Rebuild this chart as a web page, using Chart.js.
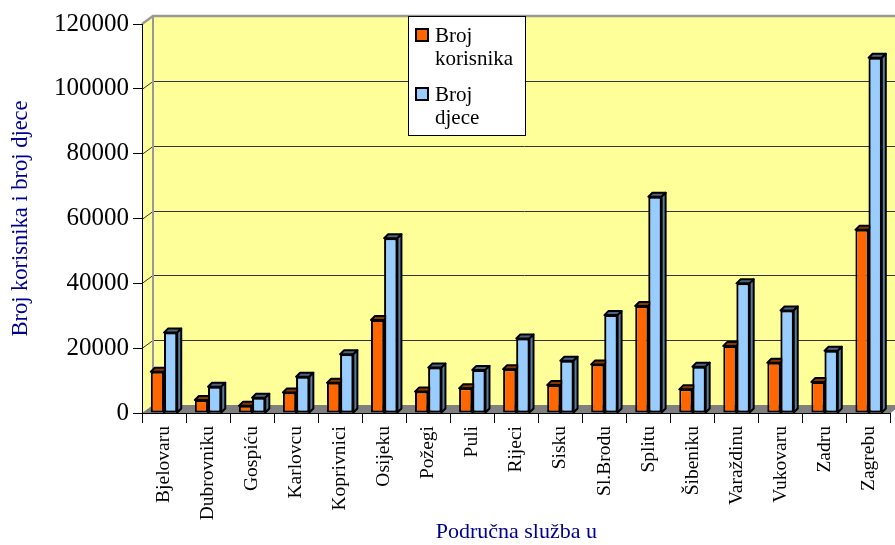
<!DOCTYPE html>
<html>
<head>
<meta charset="utf-8">
<script src="https://cdn.jsdelivr.net/npm/chart.js@4/dist/chart.umd.min.js"></script>
<style>
  body { margin: 0; background: #fff; }
</style>
</head>
<body>
<canvas id="grafico" width="895" height="545"></canvas>
<script>
// Podaci s grafikona
const sluzbe = ['Bjelovaru', 'Dubrovniku', 'Gospiću', 'Karlovcu', 'Koprivnici', 'Osijeku', 'Požegi', 'Puli',
  'Rijeci', 'Sisku', 'Sl.Brodu', 'Splitu', 'Šibeniku', 'Varaždinu', 'Vukovaru', 'Zadru', 'Zagrebu'];
const brojKorisnika = [12700, 4000, 2200, 6300, 9300, 28700, 6600, 7600, 13500, 8600, 15000, 33000, 7300, 20700, 15500, 9600, 56500];
const brojDjece = [24800, 8100, 4700, 11200, 18100, 53900, 14000, 13300, 23000, 16100, 30200, 66700, 14300, 40000, 31600, 19200, 109600];
const oznakeY = [0, 20000, 40000, 60000, 80000, 100000, 120000];
const legenda = [['Broj', 'korisnika'], ['Broj', 'djece']];

const serif = "'Liberation Serif', 'Times New Roman', serif";
const tamnoPlava = '#000090';

// pomak straznjeg zida (3D)
const dubX = 11, dubY = -8;
// pomak gornje i bocne plohe stupca
const stupX = 4, stupY = -4;

function plohe(ctx, el, ds) {
  const p = el.getProps(['x', 'y', 'base', 'width'], true);
  const x1 = p.x - p.width / 2, x2 = p.x + p.width / 2;
  // gornja ploha
  ctx.fillStyle = ds.gornja;
  ctx.beginPath();
  ctx.moveTo(x1, p.y);
  ctx.lineTo(x1 + stupX, p.y + stupY);
  ctx.lineTo(x2 + stupX, p.y + stupY);
  ctx.lineTo(x2, p.y);
  ctx.closePath();
  ctx.fill();
  ctx.stroke();
  // bocna ploha
  ctx.fillStyle = ds.bocna;
  ctx.beginPath();
  ctx.moveTo(x2, p.y);
  ctx.lineTo(x2 + stupX, p.y + stupY);
  ctx.lineTo(x2 + stupX, p.base + stupY);
  ctx.lineTo(x2, p.base);
  ctx.closePath();
  ctx.fill();
  ctx.stroke();
}

const zidovi = {
  id: 'zidovi',
  beforeDraw(chart) {
    const ctx = chart.ctx;
    const a = chart.chartArea;
    const y = chart.scales.y;
    ctx.save();
    // lijevi zid
    ctx.fillStyle = '#FFFF99';
    ctx.beginPath();
    ctx.moveTo(a.left, a.top);
    ctx.lineTo(a.left + dubX, a.top + dubY);
    ctx.lineTo(a.left + dubX, a.bottom + dubY);
    ctx.lineTo(a.left, a.bottom);
    ctx.closePath();
    ctx.fill();
    // straznji zid
    ctx.fillRect(a.left + dubX, a.top + dubY, a.right - a.left, a.bottom - a.top);
    // pod
    ctx.fillStyle = '#808080';
    ctx.beginPath();
    ctx.moveTo(a.left, a.bottom);
    ctx.lineTo(a.left + dubX, a.bottom + dubY);
    ctx.lineTo(a.right + dubX, a.bottom + dubY);
    ctx.lineTo(a.right, a.bottom);
    ctx.closePath();
    ctx.fill();
    // linije mreze
    ctx.strokeStyle = '#333';
    ctx.lineWidth = 1;
    oznakeY.forEach(v => {
      if (v === 0 || v === 120000) return;
      const py = Math.round(y.getPixelForValue(v)) + 0.5;
      ctx.beginPath();
      ctx.moveTo(a.left, py);
      ctx.lineTo(a.left + dubX, py + dubY);
      ctx.lineTo(a.right + dubX, py + dubY);
      ctx.stroke();
    });
    // rubovi zida
    ctx.strokeStyle = '#999';
    ctx.lineWidth = 2.5;
    ctx.beginPath();
    ctx.moveTo(a.left, a.top);
    ctx.lineTo(a.left + dubX, a.top + dubY);
    ctx.lineTo(a.right + dubX, a.top + dubY);
    ctx.stroke();
    ctx.lineWidth = 2;
    ctx.beginPath();
    ctx.moveTo(a.left + dubX, a.top + dubY);
    ctx.lineTo(a.left + dubX, a.bottom + dubY);
    ctx.stroke();
    ctx.restore();
  },
  afterDatasetsDraw(chart) {
    // 3D plohe: prvo narancasti, zatim plavi stupci preko njih
    const ctx = chart.ctx;
    const korisnici = chart.getDatasetMeta(0);
    const djeca = chart.getDatasetMeta(1);
    ctx.save();
    ctx.strokeStyle = '#000';
    ctx.lineWidth = 2;
    ctx.lineJoin = 'round';
    korisnici.data.forEach(el => plohe(ctx, el, chart.data.datasets[0]));
    djeca.data.forEach(el => {
      el.draw(ctx);
      ctx.strokeStyle = '#000';
      ctx.lineWidth = 2;
      plohe(ctx, el, chart.data.datasets[1]);
    });
    ctx.restore();
  },
  afterDraw(chart) {
    // legenda
    const ctx = chart.ctx;
    ctx.save();
    ctx.fillStyle = '#fff';
    ctx.fillRect(408, 16, 117, 119);
    ctx.strokeStyle = '#000';
    ctx.lineWidth = 1;
    ctx.strokeRect(408.5, 16.5, 117, 119);
    ctx.font = 'normal normal 21px ' + serif;
    ctx.textBaseline = 'alphabetic';
    ctx.textAlign = 'left';
    chart.data.datasets.forEach((ds, i) => {
      const y0 = 28 + i * 59;
      ctx.fillStyle = ds.backgroundColor;
      ctx.fillRect(416, y0 + 1, 12, 12);
      ctx.lineWidth = 2;
      ctx.strokeRect(416, y0 + 1, 12, 12);
      ctx.fillStyle = '#000';
      ctx.fillText(legenda[i][0], 435, y0 + 14);
      ctx.fillText(legenda[i][1], 435, y0 + 37);
    });
    ctx.restore();
  }
};

const ctx = document.getElementById('grafico').getContext('2d');
const grafikon = new Chart(ctx, {
  type: 'bar',
  data: {
    labels: sluzbe,
    datasets: [{
      label: 'Broj korisnika',
      data: brojKorisnika,
      backgroundColor: '#FF6600',
      gornja: '#8A3800',
      bocna: '#A04000',
      borderColor: '#000',
      borderWidth: 2,
      borderSkipped: false
    }, {
      label: 'Broj djece',
      data: brojDjece,
      backgroundColor: '#99CCFF',
      gornja: '#4D6680',
      bocna: '#5C7A99',
      borderColor: '#000',
      borderWidth: 2,
      borderSkipped: false
    }]
  },
  options: {
    responsive: false,
    animation: false,
    layout: { padding: { top: 24, right: 0, left: 0, bottom: 0 } },
    categoryPercentage: 0.6,
    barPercentage: 1.0,
    plugins: {
      legend: { display: false },
      tooltip: { enabled: false }
    },
    scales: {
      x: {
        offset: true,
        afterFit: s => { s.height = 132; },
        grid: { drawOnChartArea: false, drawTicks: true, tickLength: 10, color: '#000', offset: true },
        border: { display: true, color: '#000', width: 1 },
        ticks: {
          autoSkip: false,
          minRotation: 90,
          maxRotation: 90,
          padding: 3,
          color: '#000',
          font: { family: serif, size: 19.5 }
        },
        title: {
          display: true,
          text: 'Područna služba u',
          color: tamnoPlava,
          font: { family: serif, size: 22 },
          padding: { top: 0, bottom: 0 }
        }
      },
      y: {
        min: 0,
        max: 120000,
        afterFit: s => { s.width = 142; },
        afterBuildTicks: s => { s.ticks = oznakeY.map(v => ({ value: v })); },
        grid: { drawOnChartArea: false, drawTicks: true, tickLength: 9, color: '#000' },
        border: { display: true, color: '#000', width: 1 },
        ticks: {
          padding: 4,
          color: '#000',
          font: { family: serif, size: 25 },
          callback: v => String(v)
        },
        title: {
          display: true,
          text: 'Broj korisnika i broj djece',
          color: tamnoPlava,
          font: { family: serif, size: 22.5 },
          padding: { top: 8, bottom: 0 }
        }
      }
    }
  },
  plugins: [zidovi]
});
</script>
</body>
</html>
